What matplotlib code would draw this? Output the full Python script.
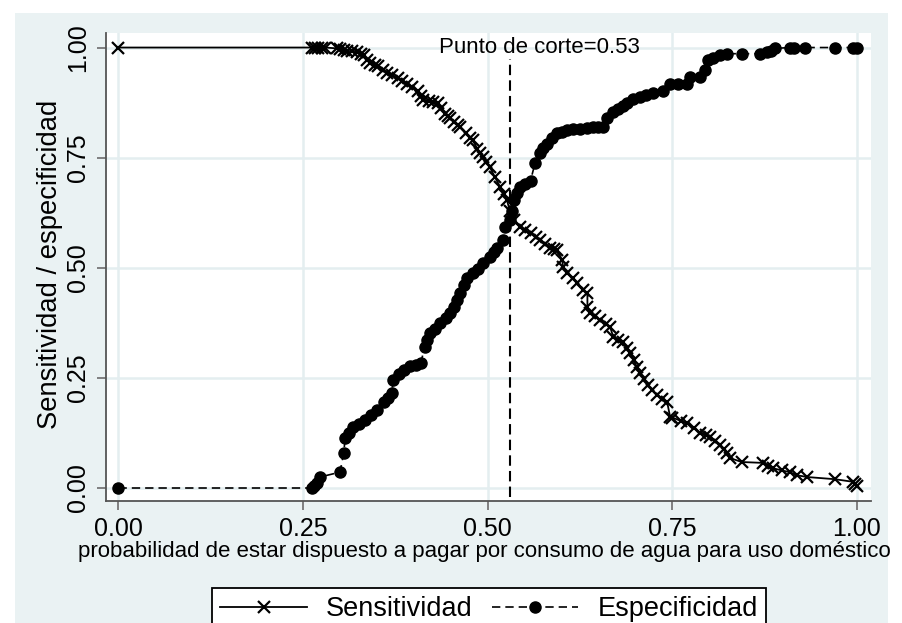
import matplotlib
matplotlib.use("Agg")
import matplotlib.pyplot as plt
from matplotlib.patches import Rectangle
from matplotlib.lines import Line2D

plt.rcParams['font.family'] = ['Liberation Sans', 'DejaVu Sans']

# ---------------- data ----------------
sens_x = [0.0, 0.262, 0.266, 0.270, 0.275, 0.280, 0.296, 0.300, 0.305, 0.310, 0.316,
          0.323, 0.328, 0.332, 0.337, 0.341, 0.347, 0.352, 0.358, 0.364, 0.370, 0.378,
          0.384, 0.391, 0.398, 0.405, 0.410, 0.413, 0.420, 0.426, 0.432, 0.437, 0.442,
          0.446, 0.449, 0.455, 0.460, 0.463, 0.470, 0.476, 0.480, 0.486, 0.490, 0.494,
          0.498, 0.503, 0.510, 0.517, 0.522, 0.526, 0.530, 0.535, 0.544, 0.550, 0.558,
          0.565, 0.571, 0.578, 0.584, 0.590, 0.594, 0.601, 0.602, 0.608, 0.615, 0.621,
          0.629, 0.635, 0.635, 0.639, 0.645, 0.652, 0.660, 0.666, 0.670, 0.676, 0.683,
          0.689, 0.693, 0.698, 0.702, 0.706, 0.712, 0.717, 0.723, 0.729, 0.736, 0.743,
          0.747, 0.750, 0.762, 0.770, 0.779, 0.788, 0.795, 0.801, 0.808, 0.815, 0.820,
          0.824, 0.828, 0.844, 0.873, 0.880, 0.886, 0.898, 0.909, 0.919, 0.932, 0.970,
          0.995, 0.998, 1.0]
sens_y = [1.0, 1.0, 1.0, 1.0, 1.0, 1.0, 0.998, 0.997, 0.995, 0.993, 0.991,
          0.989, 0.985, 0.982, 0.972, 0.964, 0.961, 0.959, 0.950, 0.943, 0.937, 0.930,
          0.925, 0.918, 0.910, 0.902, 0.890, 0.880, 0.878, 0.877, 0.875, 0.862, 0.850,
          0.845, 0.840, 0.830, 0.823, 0.819, 0.806, 0.795, 0.789, 0.770, 0.760, 0.751,
          0.740, 0.728, 0.705, 0.683, 0.668, 0.653, 0.630, 0.608, 0.592, 0.585, 0.578,
          0.570, 0.562, 0.554, 0.546, 0.543, 0.540, 0.517, 0.501, 0.488, 0.476, 0.465,
          0.449, 0.442, 0.410, 0.397, 0.390, 0.381, 0.372, 0.365, 0.342, 0.337, 0.331,
          0.318, 0.306, 0.290, 0.274, 0.261, 0.247, 0.234, 0.222, 0.211, 0.203, 0.195,
          0.161, 0.160, 0.152, 0.147, 0.136, 0.125, 0.120, 0.116, 0.107, 0.098, 0.088,
          0.079, 0.068, 0.059, 0.057, 0.050, 0.045, 0.040, 0.036, 0.029, 0.025, 0.020,
          0.014, 0.010, 0.005]

spec_x = [0.0, 0.262, 0.265, 0.269, 0.273, 0.300, 0.305, 0.307, 0.312, 0.318, 0.326,
          0.334, 0.342, 0.350, 0.359, 0.365, 0.370, 0.372, 0.380, 0.386, 0.395, 0.403,
          0.409, 0.415, 0.418, 0.422, 0.429, 0.436, 0.443, 0.449, 0.455, 0.459, 0.463,
          0.468, 0.472, 0.480, 0.487, 0.494, 0.503, 0.508, 0.513, 0.521, 0.524, 0.530,
          0.533, 0.535, 0.540, 0.544, 0.551, 0.558, 0.564, 0.571, 0.575, 0.580, 0.587,
          0.594, 0.600, 0.608, 0.616, 0.625, 0.634, 0.643, 0.650, 0.656, 0.662, 0.670,
          0.676, 0.683, 0.689, 0.697, 0.706, 0.715, 0.724, 0.737, 0.747, 0.758, 0.770,
          0.774, 0.788, 0.794, 0.798, 0.805, 0.815, 0.824, 0.844, 0.869, 0.878, 0.884,
          0.889, 0.909, 0.915, 0.930, 0.970, 0.995, 1.0]
spec_y = [0.0, 0.0, 0.005, 0.012, 0.025, 0.036, 0.080, 0.113, 0.125, 0.138, 0.146,
          0.154, 0.165, 0.177, 0.195, 0.205, 0.215, 0.245, 0.258, 0.268, 0.276, 0.280,
          0.283, 0.320, 0.335, 0.351, 0.362, 0.374, 0.386, 0.397, 0.412, 0.426, 0.442,
          0.460, 0.476, 0.488, 0.498, 0.510, 0.524, 0.535, 0.546, 0.562, 0.592, 0.608,
          0.630, 0.653, 0.670, 0.683, 0.690, 0.698, 0.737, 0.760, 0.771, 0.782, 0.794,
          0.805, 0.809, 0.812, 0.814, 0.816, 0.818, 0.819, 0.819, 0.819, 0.841, 0.853,
          0.860, 0.868, 0.875, 0.884, 0.887, 0.892, 0.896, 0.902, 0.918, 0.918, 0.918,
          0.932, 0.932, 0.948, 0.971, 0.977, 0.982, 0.986, 0.986, 0.986, 0.989, 0.993,
          0.998, 1.0, 1.0, 1.0, 1.0, 1.0, 1.0]

cutoff = 0.53
ticks = [0.0, 0.25, 0.5, 0.75, 1.0]
tick_labels = ["0.00", "0.25", "0.50", "0.75", "1.00"]
xlabel = "probabilidad de estar dispuesto a pagar por consumo de agua para uso doméstico"
ylabel = "Sensitividad / especificidad"
cut_text = "Punto de corte=0.53"
series_names = ["Sensitividad", "Especificidad"]

# ---------------- figure ----------------
W, H = 902, 623
fig = plt.figure(figsize=(W / 100, H / 100), dpi=100, facecolor="white")
bg = "#eaf2f3"
fig.add_artist(Rectangle((15 / W, 0), (888 - 15) / W, 1 - 13 / H,
                         transform=fig.transFigure, facecolor=bg,
                         edgecolor="none", zorder=-10))

ax = fig.add_axes([106 / W, 1 - 501 / H, 765 / W, 468 / H])
ax.set_zorder(1)
ax.set_facecolor("white")
ax.set_xlim(-0.0169, 1.019)
ax.set_ylim(-0.0295, 1.033)

ax.set_xticks(ticks)
ax.set_xticklabels(tick_labels)
ax.set_yticks(ticks)
ax.set_yticklabels(tick_labels)
ax.grid(True, color="#e4eef0", linewidth=1.8)
ax.set_axisbelow(True)

for s in ["top", "right"]:
    ax.spines[s].set_visible(False)
for s in ["left", "bottom"]:
    ax.spines[s].set_color("#555555")
    ax.spines[s].set_linewidth(1.3)

ax.tick_params(axis="both", direction="out", length=6.5, width=1.3,
               color="#777777", labelsize=18, pad=5)
ax.tick_params(axis="y", labelrotation=90)
for lbl in ax.get_yticklabels():
    lbl.set_va("center")

# curves
ax.plot(sens_x, sens_y, color="black", linewidth=1.3, marker="x",
        markersize=8, markeredgewidth=1.6, zorder=3)
ax.plot(spec_x, spec_y, color="black", linewidth=1.2, linestyle=(0, (5, 3)),
        marker="o", markersize=8, zorder=3)

# cutoff line and text
ax.plot([cutoff, cutoff], [-0.02, 0.975], color="black", linewidth=1.5,
        linestyle=(0, (5, 2.5)), zorder=2)
ax.text(0.57, 1.0, cut_text, ha="center", va="center", fontsize=16)

ax.set_xlabel(xlabel, fontsize=16)
ax.xaxis.set_label_coords(0.495, -0.085)
ax.set_ylabel(ylabel, fontsize=19.7)
ax.yaxis.set_label_coords(-0.056, 0.506)

handles = [Line2D([], [], color="black", linewidth=1.3, marker="x",
                  markersize=8, markeredgewidth=1.6),
           Line2D([], [], color="black", linewidth=1.2, linestyle=(0, (5, 3)),
                  marker="o", markersize=8)]
leg = fig.legend(handles, series_names, loc="upper center",
                 bbox_to_anchor=(489 / W, 1 - 588 / H), ncol=2, fontsize=19.5,
                 frameon=True, fancybox=False, edgecolor="black", framealpha=1,
                 handlelength=3.2, handletextpad=0.7, columnspacing=0.7,
                 borderpad=0.3, borderaxespad=0)
leg.get_frame().set_linewidth(1.3)

fig.savefig("out.png", dpi=100, facecolor="white")
